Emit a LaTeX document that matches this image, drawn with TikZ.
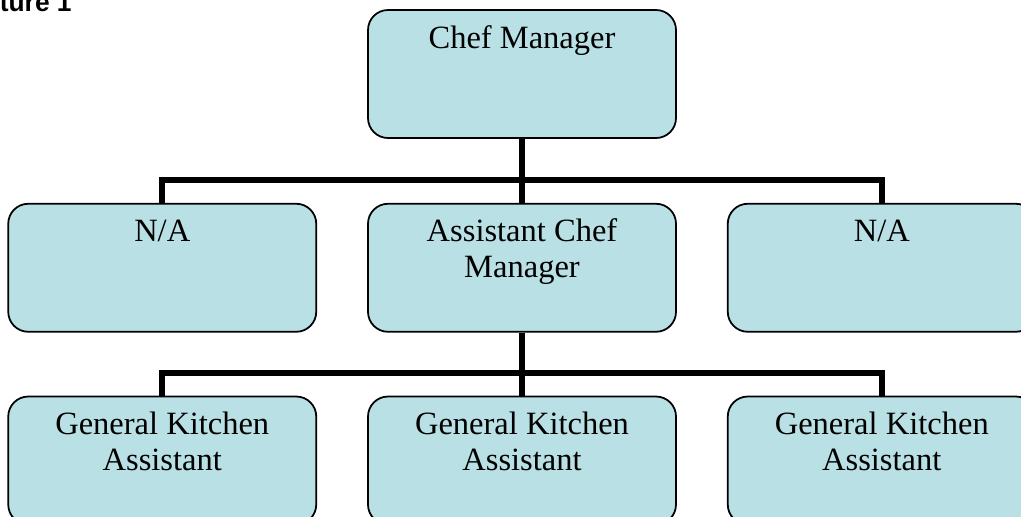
\documentclass[tikz,border=0pt]{standalone}
\usepackage{fontspec}
\setmainfont{Liberation Serif}
\newfontfamily\headfont{Liberation Sans}
\usetikzlibrary{positioning}
\definecolor{boxblue}{RGB}{185,224,228}
\tikzset{
    unit/.style={draw, line width=1pt, fill=boxblue, rounded corners=0.4cm,
        minimum width=6.16cm, minimum height=2.56cm, inner sep=0pt,
        font=\fontsize{18.5}{20.5}\selectfont},
    link/.style={line width=0.12cm}
}
\newcommand{\unittext}[1]{\parbox[c][2.56cm][t]{6cm}{\centering\rule{0pt}{0.76cm}#1}}

\begin{document}
\begin{tikzpicture}
\useasboundingbox (0,0) rectangle (20.42,-10.32);
\clip (0,0) rectangle (20.42,-10.32);
%heading
\node[anchor=base east, inner sep=0, font=\headfont\bfseries\fontsize{15}{18}\selectfont] (title) at (1.44,-0.22) {Structure 1};
%boxes
\node[unit] (chef) at (10.44,-1.48) {\unittext{Chef Manager}};
\node[unit, below=1.28cm of chef] (asst) {\unittext{Assistant Chef\\Manager}};
\node[unit, left=1cm of asst] (na1) {\unittext{N/A}};
\node[unit, right=1cm of asst] (na2) {\unittext{N/A}};
\node[unit, below=1.26cm of asst] (gka2) {\unittext{General Kitchen\\Assistant}};
\node[unit, left=1cm of gka2] (gka1) {\unittext{General Kitchen\\Assistant}};
\node[unit, right=1cm of gka2] (gka3) {\unittext{General Kitchen\\Assistant}};
%links
\coordinate (bus1) at (0,-3.59);
\coordinate (bus2) at (0,-7.45);
\draw[link] (chef.south) -- (asst.north);
\draw[link] (na1.north) -- (na1.north |- bus1) -- (na2.north |- bus1) -- (na2.north);
\draw[link] (asst.south) -- (gka2.north);
\draw[link] (gka1.north) -- (gka1.north |- bus2) -- (gka3.north |- bus2) -- (gka3.north);
\end{tikzpicture}
\end{document}
